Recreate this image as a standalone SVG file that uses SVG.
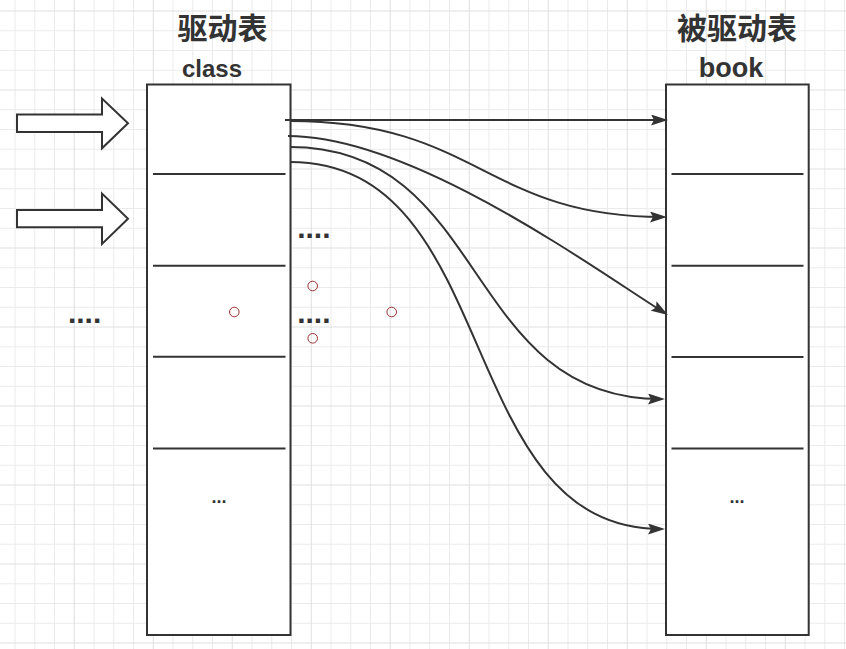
<svg xmlns="http://www.w3.org/2000/svg" width="846" height="649" viewBox="0 0 846 649">
<defs>
<style>
.gmin{stroke:#ebebeb;stroke-width:1;fill:none}
.gmaj{stroke:#dfdfdf;stroke-width:1;fill:none}
.tbl{fill:#ffffff;stroke:#333333;stroke-width:2}
.div{stroke:#333333;stroke-width:2}
.blk{fill:#ffffff;stroke:#333333;stroke-width:2;stroke-linejoin:miter}
.edge{fill:none;stroke:#333333;stroke-width:2}
.title{font-family:"Noto Sans CJK SC","Noto Sans",sans-serif;font-weight:700;font-size:30px;fill:#333333;text-anchor:middle}
.name{font-family:"Liberation Sans",Arial,sans-serif;font-weight:700;fill:#333333;text-anchor:middle}
.dots{font-family:"Liberation Sans",Arial,sans-serif;font-weight:700;font-size:30px;fill:#333333}
.small{font-family:"Liberation Sans",Arial,sans-serif;font-weight:700;font-size:18px;fill:#333333;text-anchor:middle}
.mark{fill:none;stroke:#a03030;stroke-width:1}
</style>
<marker id="arr" viewBox="0 0 17 11" markerWidth="17" markerHeight="11" refX="13" refY="5.5" orient="auto" markerUnits="userSpaceOnUse">
<path d="M0,0 L17,5.5 L0,11 L3,5.5 Z" fill="#333333"/>
</marker>
</defs>
<rect width="846" height="649" fill="#ffffff"/>
<g id="grid">
<path class="gmin" d="M15,0V649M34.75,0V649M54.5,0V649M94,0V649M113.75,0V649M133.5,0V649M173,0V649M192.75,0V649M212.5,0V649M252,0V649M271.75,0V649M291.5,0V649M331,0V649M350.75,0V649M370.5,0V649M410,0V649M429.75,0V649M449.5,0V649M489,0V649M508.75,0V649M528.5,0V649M568,0V649M587.75,0V649M607.5,0V649M647,0V649M666.75,0V649M686.5,0V649M726,0V649M745.75,0V649M765.5,0V649M805,0V649M824.75,0V649M844.5,0V649
M0,30.75H846M0,50.5H846M0,70.25H846M0,109.75H846M0,129.5H846M0,149.25H846M0,188.75H846M0,208.5H846M0,228.25H846M0,267.75H846M0,287.5H846M0,307.25H846M0,346.75H846M0,366.5H846M0,386.25H846M0,425.75H846M0,445.5H846M0,465.25H846M0,504.75H846M0,524.5H846M0,544.25H846M0,583.75H846M0,603.5H846M0,623.25H846"/>
<path class="gmaj" d="M74.25,0V649M153.25,0V649M232.25,0V649M311.25,0V649M390.25,0V649M469.25,0V649M548.25,0V649M627.25,0V649M706.25,0V649M785.25,0V649
M0,11H846M0,90H846M0,169H846M0,248H846M0,327H846M0,406H846M0,485H846M0,564H846M0,643H846"/>
</g>
<g id="labels">
<text class="title" x="222.5" y="39">驱动表</text>
<text class="name" x="212" y="77" font-size="24">class</text>
<text class="title" x="737" y="39">被驱动表</text>
<text class="name" x="731" y="77" font-size="27">book</text>
</g>
<g id="input-arrow-1"><polygon class="blk" points="17,114.5 102,114.5 102,98.5 128,123.3 102,148.3 102,132 17,132"/></g>
<g id="input-arrow-2"><polygon class="blk" points="17,210 102,210 102,193.5 128,218.7 102,244 102,227.3 17,227.3"/></g>
<g id="dots-left"><text class="dots" x="67.9" y="322.8">....</text></g>
<g id="table-class">
<rect class="tbl" x="147" y="84.5" width="143.5" height="550.5"/>
<line class="div" x1="153" y1="174" x2="285.5" y2="174"/>
<line class="div" x1="153" y1="265.7" x2="285.5" y2="265.7"/>
<line class="div" x1="153" y1="356.7" x2="285.5" y2="356.7"/>
<line class="div" x1="153" y1="448.5" x2="285.5" y2="448.5"/>
<text class="small" x="219" y="503">...</text>
</g>
<g id="table-book">
<rect class="tbl" x="666" y="84.5" width="142.7" height="550.5"/>
<line class="div" x1="671.5" y1="174" x2="803.5" y2="174"/>
<line class="div" x1="671.5" y1="265.7" x2="803.5" y2="265.7"/>
<line class="div" x1="671.5" y1="357" x2="803.5" y2="357"/>
<line class="div" x1="671.5" y1="448.5" x2="803.5" y2="448.5"/>
<text class="small" x="737" y="503">...</text>
</g>
<g id="dots-mid">
<text class="dots" x="297.2" y="237.8">....</text>
<text class="dots" x="297.2" y="322.8">....</text>
</g>
<g id="markers-red">
<circle class="mark" cx="234.3" cy="312" r="4.8"/>
<circle class="mark" cx="312.7" cy="286" r="4.8"/>
<circle class="mark" cx="312.7" cy="338.3" r="4.8"/>
<circle class="mark" cx="391.7" cy="312" r="4.8"/>
</g>
<g id="connectors">
<path class="edge" d="M285,120 L664,120" marker-end="url(#arr)"/>
<path class="edge" d="M290,121 C478,121 486,217 663,217" marker-end="url(#arr)"/>
<path class="edge" d="M288,136 C414,136 598,271.5 664.6,312.9" marker-end="url(#arr)"/>
<path class="edge" d="M290,147 C490,147 462,399 661,399" marker-end="url(#arr)"/>
<path class="edge" d="M290,162 C504,162 452,529 661,529" marker-end="url(#arr)"/>
</g>
</svg>
